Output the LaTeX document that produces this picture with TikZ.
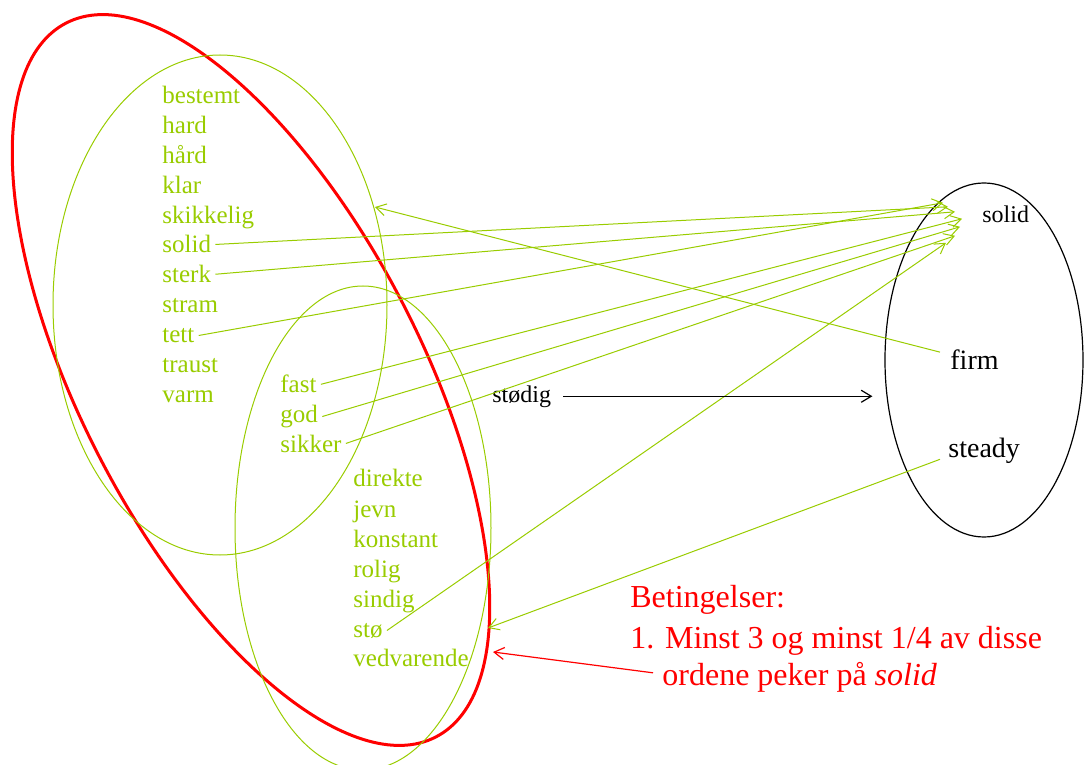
\documentclass[tikz,border=0pt]{standalone}
\usepackage{fontspec}
\setmainfont{Liberation Serif}
\usetikzlibrary{
	positioning,
	arrows.meta,
	shapes.geometric
}

\definecolor{leaf}{RGB}{153,204,0}

\tikzset{
	word/.style={inner sep=2pt,anchor=base west,text=leaf,font=\fontsize{12.5}{15}\selectfont},
	target/.style={inner sep=2pt,anchor=base west,font=\fontsize{14}{16}\selectfont},
	small/.style={font=\fontsize{12}{14}\selectfont},
	note/.style={inner sep=0pt,anchor=base west,text=red,font=\fontsize{16}{19}\selectfont},
	link/.style={leaf,line width=0.5pt,-{Straight Barb[length=5pt,width=6pt]}}
}

\begin{document}
\begin{tikzpicture}[x=0.5pt,y=-0.5pt]
	\useasboundingbox (0,0) rectangle (1084,765);

	% sets
	\draw[red,line width=1.5pt,rotate around={-62.6:(251,380)}]
		(251,380) ellipse [x radius=402,y radius=170];
	\draw[leaf,line width=0.5pt] (220,305) ellipse [x radius=167,y radius=250];
	\draw[leaf,line width=0.5pt] (363,528) ellipse [x radius=128,y radius=242];
	\node[draw,ellipse,line width=0.6pt,inner sep=0pt,
		minimum width=99pt,minimum height=177pt] (en) at (984,360) {};

	% norwegian words
	\foreach \w [count=\i from 0] in {bestemt,hard,hård,klar,skikkelig,solid,sterk,stram,tett,traust,varm}
		\node[word] (L\i) at (158,{104+29.8*\i}) {\w};
	\foreach \w [count=\i from 0] in {fast,god,sikker}
		\node[word] (M\i) at (276,{393+29.5*\i}) {\w};
	\foreach \w [count=\i from 0] in {direkte,jevn,konstant,rolig,sindig,stø,vedvarende}
		\node[word] (D\i) at (349,{487+30*\i}) {\w};

	% english words
	\node[target,small] (solid)  at (978,223) {solid};
	\node[target]       (firm)   at (946,370) {firm};
	\node[target]       (steady) at (944,458) {steady};
	\node[target,small] (stodig) at (488,402) {stødig};

	\node[note] (b0) at (630,608) {Betingelser:};
	\node[note] (b1) at (630,648) {1. Minst 3 og minst 1/4 av disse};
	\node[note] (b2) at (662,685) {ordene peker på \textit{solid}};

	\coordinate (hit-firm)   at (375,207);
	\coordinate (hit-steady) at (488,628);
	\coordinate (hit-red)    at (493,652);

	% links
	\draw[link] (L5.east) -- ([shift={(-30,-8)}]solid.west);
	\draw[link] (L6.east) -- ([shift={(-23,-3)}]solid.west);
	\draw[link] (L8.east) -- ([shift={(-35,-12)}]solid.west);
	\draw[link] (M0.east) -- ([shift={(-16,4)}]solid.west);
	\draw[link] (M1.east) -- ([shift={(-18,12)}]solid.west);
	\draw[link] (M2.east) -- ([shift={(-23,21)}]solid.west);
	\draw[link] (D5.east) -- ([shift={(-32,28)}]solid.west);
	\draw[link] ([shift={(-6,-8)}]firm.west) -- (hit-firm);
	\draw[link] ([shift={(-4,8)}]steady.west) -- (hit-steady);

	\draw[line width=0.6pt,-{Straight Barb[length=5pt,width=6pt]},shorten <=4pt,shorten >=6pt]
		(stodig.east) -- (stodig.east -| en.west);
	\draw[red,line width=0.6pt,-{Straight Barb[length=5pt,width=6pt]}]
		([shift={(-9,-4)}]b2.west) -- (hit-red);
\end{tikzpicture}
\end{document}
